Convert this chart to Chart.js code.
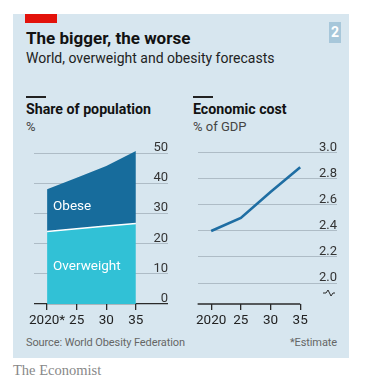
<!DOCTYPE html>
<html><head><meta charset="utf-8">
<script src="https://cdn.jsdelivr.net/npm/chart.js@4"></script>
<style>
html,body{margin:0;padding:0;background:#fff;width:365px;height:387px;overflow:hidden;font-family:Roboto,"Open Sans",sans-serif;}
#panel{position:absolute;left:13px;top:14px;width:336px;height:344px;background:#d7e6ef;}
.abs{position:absolute;white-space:nowrap;}
#red{left:25px;top:14px;width:32px;height:9px;background:#e3120b;}
#title{left:26px;top:28px;font-size:17px;font-weight:700;color:#121212;}
#sub{left:26px;top:50px;font-size:14px;color:#222;}
#num{left:329px;top:22px;width:12px;height:21px;background:#a7c7da;color:#fff;font-weight:700;font-size:14px;text-align:center;line-height:21px;}
.rule{position:absolute;height:2px;width:20px;background:#222;}
.head{font-size:14.2px;font-weight:700;color:#121212;}
.unit{font-size:13px;color:#444;}
.src{font-size:11px;color:#666;letter-spacing:-0.1px;}
#eco{left:13px;top:362px;font-family:"Liberation Serif","DejaVu Serif",serif;font-size:14.5px;color:#888;}
canvas{position:absolute;}
</style></head><body>
<div id="panel"></div>
<div id="red" class="abs"></div>
<div id="title" class="abs">The bigger, the worse</div>
<div id="sub" class="abs">World, overweight and obesity forecasts</div>
<div id="num" class="abs">2</div>
<div class="rule" style="left:26px;top:96px"></div>
<div class="rule" style="left:193px;top:96px"></div>
<div class="abs head" style="left:26px;top:101px">Share of population</div>
<div class="abs unit" style="left:26px;top:119px">%</div>
<div class="abs head" style="left:193px;top:101px">Economic cost</div>
<div class="abs unit" style="left:193px;top:119px">% of GDP</div>
<div class="abs src" style="left:26px;top:336px">Source: World Obesity Federation</div>
<div class="abs src" style="left:337px;top:336px;transform:translateX(-100%)">*Estimate</div>
<div id="eco" class="abs">The Economist</div>
<div style="position:absolute;left:26px;top:140px;width:142px;height:204px"><canvas id="c1"></canvas></div>
<div style="position:absolute;left:193px;top:140px;width:144px;height:204px"><canvas id="c2"></canvas></div>
<script>
const years = [2020, 2025, 2030, 2035];
const leftXLabels = ["2020*", "25", "30", "35"];
const rightXLabels = ["2020", "25", "30", "35"];
const overweight = [24, 24.9, 25.8, 26.7];
const obese = [14, 16.9, 19.9, 24];
const leftYTicks = [0, 10, 20, 30, 40, 50];
const econCost = [2.4, 2.5, 2.7, 2.89];
const rightYTicks = [2.0, 2.2, 2.4, 2.6, 2.8, 3.0];

const FONT = 'Roboto, "Open Sans", sans-serif';
const GRID = '#aebcc6';
const DARK = '#2a2a2a';

function yLabelPlugin(ticks, fmt){
  return {
    id:'ylabels',
    afterDraw(chart){
      const ctx = chart.ctx, y = chart.scales.y, a = chart.chartArea;
      ctx.save();
      ctx.font = '13px ' + FONT;
      ctx.fillStyle = '#333';
      ctx.textAlign = 'right';
      ctx.textBaseline = 'alphabetic';
      ticks.forEach(t => {
        ctx.fillText(fmt(t), a.right, y.getPixelForValue(t) - 2);
      });
      ctx.restore();
    }
  };
}

function xAxis(min, max, labels){
  return {
    type:'linear', min, max,
    afterBuildTicks(s){ s.ticks = years.map(v => ({value:v})); },
    afterFit(s){ s.height = 40; },
    border:{display:false},
    grid:{drawOnChartArea:false, drawTicks:true, tickLength:6, color:DARK, lineWidth:1.3},
    ticks:{padding:3, color:'#222', font:{family:FONT, size:13.5},
      callback(v){ const i = years.indexOf(v); return i >= 0 ? labels[i] : ''; },
      maxRotation:0, autoSkip:false}
  };
}

Chart.defaults.animation = false;
Chart.defaults.responsive = true;
Chart.defaults.maintainAspectRatio = false;

new Chart(document.getElementById('c1'), {
  type:'line',
  data:{datasets:[
    {label:'Overweight', data:years.map((x,i)=>({x, y:overweight[i]})), fill:'origin',
      backgroundColor:'#31c1d6', borderColor:'#ffffff', borderWidth:1.5, pointRadius:0, tension:0},
    {label:'Obese', data:years.map((x,i)=>({x, y:obese[i]})), fill:'-1',
      backgroundColor:'#176c9c', borderColor:'rgba(0,0,0,0)', borderWidth:0, pointRadius:0, tension:0}
  ]},
  options:{
    layout:{padding:{top:7, left:0, right:0, bottom:0}},
    plugins:{legend:{display:false}, tooltip:{enabled:false}},
    scales:{
      x: xAxis(2017.766, 2040.43, leftXLabels),
      y:{type:'linear', stacked:true, min:0, max:52,
        afterBuildTicks(s){ s.ticks = leftYTicks.map(v=>({value:v})); },
        afterFit(s){ s.width = 0; },
        border:{display:false},
        ticks:{display:false},
        grid:{drawTicks:false, color:c => c.tick && c.tick.value === 0 ? DARK : GRID,
          lineWidth:c => c.tick && c.tick.value === 0 ? 1.3 : 1}}
    }
  },
  plugins:[yLabelPlugin(leftYTicks, v => String(v)), {
    id:'areaLabels',
    afterDatasetsDraw(chart){
      const ctx = chart.ctx, x = chart.scales.x, y = chart.scales.y;
      ctx.save();
      ctx.font = '13.5px ' + FONT;
      ctx.fillStyle = '#fff';
      ctx.textBaseline = 'middle';
      ctx.fillText('Obese', x.getPixelForValue(2020) + 6, y.getPixelForValue(32.3));
      ctx.fillText('Overweight', x.getPixelForValue(2020) + 6, y.getPixelForValue(12.3));
      ctx.restore();
    }
  }]
});

new Chart(document.getElementById('c2'), {
  type:'line',
  data:{datasets:[
    {label:'Economic cost', data:years.map((x,i)=>({x, y:econCost[i]})), fill:false,
      borderColor:'#1f6ea3', borderWidth:2.6, pointRadius:0, tension:0}
  ]},
  options:{
    layout:{padding:{top:7, left:0, right:0, bottom:0}},
    plugins:{legend:{display:false}, tooltip:{enabled:false}},
    scales:{
      x: xAxis(2017.717, 2041.2, rightXLabels),
      y:{type:'linear', min:1.8385, max:3.046,
        afterBuildTicks(s){ s.ticks = rightYTicks.map(v=>({value:v})); },
        afterFit(s){ s.width = 0; },
        border:{display:false},
        ticks:{display:false},
        grid:{drawTicks:false, color:GRID, lineWidth:1}}
    }
  },
  plugins:[yLabelPlugin(rightYTicks, v => v.toFixed(1)), {
    id:'axisAndBreak',
    afterDraw(chart){
      const ctx = chart.ctx, x = chart.scales.x, a = chart.chartArea;
      ctx.save();
      ctx.strokeStyle = DARK;
      ctx.lineWidth = 1.3;
      ctx.beginPath();
      ctx.moveTo(a.left, a.bottom);
      ctx.lineTo(x.getPixelForValue(2035), a.bottom);
      ctx.stroke();
      const bx = a.right - 14, by = a.bottom - 11;
      ctx.lineWidth = 1;
      ctx.beginPath();
      ctx.moveTo(bx, by);
      ctx.lineTo(bx + 3, by);
      ctx.lineTo(bx + 5, by - 3);
      ctx.lineTo(bx + 8, by + 3);
      ctx.lineTo(bx + 10, by);
      ctx.lineTo(bx + 12, by);
      ctx.stroke();
      ctx.restore();
    }
  }]
});
</script>
</body></html>
